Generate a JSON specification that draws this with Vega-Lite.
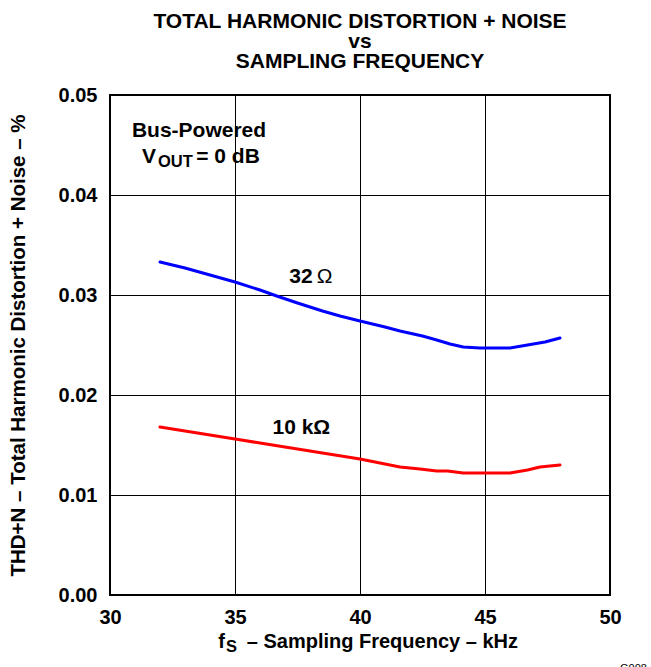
{
  "$schema": "https://vega.github.io/schema/vega-lite/v6.json",
  "width": 500,
  "height": 500,
  "autosize": {"type": "none"},
  "padding": {"left": 110, "top": 95, "right": 41, "bottom": 72},
  "background": "white",
  "config": {
    "font": "Liberation Sans",
    "view": {"stroke": "black", "strokeWidth": 2},
    "text": {"font": "Liberation Sans", "fontWeight": "bold", "fontSize": 21, "color": "black"}
  },
  "title": {
    "text": ["TOTAL HARMONIC DISTORTION + NOISE", "vs", "SAMPLING FREQUENCY"],
    "fontSize": 21,
    "fontWeight": "bold",
    "font": "Liberation Sans",
    "lineHeight": 20,
    "anchor": "middle",
    "frame": "group",
    "baseline": "bottom",
    "offset": -8,
    "color": "black"
  },
  "datasets": {
    "curves": [
      {"load": "32 Ω", "f": 32, "thd": 0.0333},
      {"load": "32 Ω", "f": 33, "thd": 0.0327},
      {"load": "32 Ω", "f": 34, "thd": 0.0320},
      {"load": "32 Ω", "f": 35, "thd": 0.0313},
      {"load": "32 Ω", "f": 36, "thd": 0.0305},
      {"load": "32 Ω", "f": 36.67, "thd": 0.0299},
      {"load": "32 Ω", "f": 37.5, "thd": 0.0292},
      {"load": "32 Ω", "f": 38.5, "thd": 0.0284},
      {"load": "32 Ω", "f": 39.2, "thd": 0.0279},
      {"load": "32 Ω", "f": 40, "thd": 0.0274},
      {"load": "32 Ω", "f": 41, "thd": 0.0268},
      {"load": "32 Ω", "f": 41.6, "thd": 0.0264},
      {"load": "32 Ω", "f": 42.5, "thd": 0.0259},
      {"load": "32 Ω", "f": 43.07, "thd": 0.0255},
      {"load": "32 Ω", "f": 43.6, "thd": 0.0251},
      {"load": "32 Ω", "f": 44.13, "thd": 0.0248},
      {"load": "32 Ω", "f": 44.8, "thd": 0.0247},
      {"load": "32 Ω", "f": 45.5, "thd": 0.0247},
      {"load": "32 Ω", "f": 46, "thd": 0.0247},
      {"load": "32 Ω", "f": 46.7, "thd": 0.0250},
      {"load": "32 Ω", "f": 47.4, "thd": 0.0253},
      {"load": "32 Ω", "f": 48, "thd": 0.0257},
      {"load": "10 kΩ", "f": 32, "thd": 0.0168},
      {"load": "10 kΩ", "f": 33, "thd": 0.0164},
      {"load": "10 kΩ", "f": 34, "thd": 0.0160},
      {"load": "10 kΩ", "f": 35, "thd": 0.0156},
      {"load": "10 kΩ", "f": 36, "thd": 0.0152},
      {"load": "10 kΩ", "f": 37, "thd": 0.0148},
      {"load": "10 kΩ", "f": 38, "thd": 0.0144},
      {"load": "10 kΩ", "f": 39, "thd": 0.0140},
      {"load": "10 kΩ", "f": 40, "thd": 0.0136},
      {"load": "10 kΩ", "f": 40.8, "thd": 0.0132},
      {"load": "10 kΩ", "f": 41.6, "thd": 0.0128},
      {"load": "10 kΩ", "f": 42.4, "thd": 0.0126},
      {"load": "10 kΩ", "f": 43.07, "thd": 0.0124},
      {"load": "10 kΩ", "f": 43.5, "thd": 0.0124},
      {"load": "10 kΩ", "f": 44.13, "thd": 0.0122},
      {"load": "10 kΩ", "f": 45, "thd": 0.0122},
      {"load": "10 kΩ", "f": 46, "thd": 0.0122},
      {"load": "10 kΩ", "f": 46.7, "thd": 0.0125},
      {"load": "10 kΩ", "f": 47.2, "thd": 0.0128},
      {"load": "10 kΩ", "f": 48, "thd": 0.0130}
    ]
  },
  "layer": [
    {
      "data": {"name": "curves"},
      "mark": {"type": "line", "strokeWidth": 3, "strokeCap": "round", "strokeJoin": "round"},
      "encoding": {
        "x": {
          "field": "f",
          "type": "quantitative",
          "scale": {"domain": [30, 50], "nice": false, "zero": false},
          "axis": {
            "values": [30, 35, 40, 45, 50],
            "format": "d",
            "title": null,
            "domain": false,
            "ticks": false,
            "grid": true,
            "gridColor": "black",
            "gridOpacity": 1,
            "gridWidth": 1,
            "labelFont": "Liberation Sans",
            "labelFontSize": 20,
            "labelFontWeight": "bold",
            "labelColor": "black",
            "labelPadding": 12,
            "labelFlush": false,
            "labelOverlap": false,
            "labelBound": false
          }
        },
        "y": {
          "field": "thd",
          "type": "quantitative",
          "scale": {"domain": [0, 0.05], "nice": false},
          "axis": {
            "values": [0, 0.01, 0.02, 0.03, 0.04, 0.05],
            "format": ".2f",
            "title": "THD+N – Total Harmonic Distortion + Noise – %",
            "titleFont": "Liberation Sans",
            "titleFontSize": 20.5,
            "titleFontWeight": "bold",
            "titleColor": "black",
            "titlePadding": 30,
            "domain": false,
            "ticks": false,
            "grid": true,
            "gridColor": "black",
            "gridOpacity": 1,
            "gridWidth": 1,
            "labelFont": "Liberation Sans",
            "labelFontSize": 20,
            "labelFontWeight": "bold",
            "labelColor": "black",
            "labelPadding": 13,
            "labelFlush": false,
            "labelOverlap": false,
            "labelBound": false
          }
        },
        "color": {
          "field": "load",
          "type": "nominal",
          "scale": {"domain": ["32 Ω", "10 kΩ"], "range": ["#0000ff", "#ff0000"]},
          "legend": null
        },
        "order": {"field": "f", "type": "quantitative"}
      }
    },
    {
      "data": {"values": [{"label": "Bus-Powered"}]},
      "mark": {"type": "text", "align": "center", "baseline": "alphabetic"},
      "encoding": {"text": {"field": "label"}, "x": {"datum": 33.56, "type": "quantitative"}, "y": {"datum": 0.0458, "type": "quantitative"}}
    },
    {
      "data": {"values": [{"label": "V"}]},
      "mark": {"type": "text", "align": "left", "baseline": "alphabetic"},
      "encoding": {"text": {"field": "label"}, "x": {"datum": 31.28, "type": "quantitative"}, "y": {"datum": 0.0432, "type": "quantitative"}}
    },
    {
      "data": {"values": [{"label": "OUT"}]},
      "mark": {"type": "text", "align": "left", "baseline": "alphabetic", "fontSize": 16.5},
      "encoding": {"text": {"field": "label"}, "x": {"datum": 31.92, "type": "quantitative"}, "y": {"datum": 0.0428, "type": "quantitative"}}
    },
    {
      "data": {"values": [{"label": "= 0 dB"}]},
      "mark": {"type": "text", "align": "left", "baseline": "alphabetic"},
      "encoding": {"text": {"field": "label"}, "x": {"datum": 33.45, "type": "quantitative"}, "y": {"datum": 0.0432, "type": "quantitative"}}
    },
    {
      "data": {"values": [{"label": "32"}]},
      "mark": {"type": "text", "align": "left", "baseline": "alphabetic"},
      "encoding": {"text": {"field": "label"}, "x": {"datum": 37.17, "type": "quantitative"}, "y": {"datum": 0.03117, "type": "quantitative"}}
    },
    {
      "data": {"values": [{"label": "Ω"}]},
      "mark": {"type": "text", "align": "left", "baseline": "alphabetic", "fontWeight": "normal"},
      "encoding": {"text": {"field": "label"}, "x": {"datum": 38.27, "type": "quantitative"}, "y": {"datum": 0.03117, "type": "quantitative"}}
    },
    {
      "data": {"values": [{"label": "10 kΩ"}]},
      "mark": {"type": "text", "align": "left", "baseline": "alphabetic"},
      "encoding": {"text": {"field": "label"}, "x": {"datum": 36.5, "type": "quantitative"}, "y": {"datum": 0.0161, "type": "quantitative"}}
    },
    {
      "data": {"values": [{"label": "f"}]},
      "mark": {"type": "text", "align": "left", "baseline": "alphabetic", "fontSize": 20},
      "encoding": {"text": {"field": "label"}, "x": {"datum": 34.33, "type": "quantitative"}, "y": {"datum": -0.00533, "type": "quantitative"}}
    },
    {
      "data": {"values": [{"label": "S"}]},
      "mark": {"type": "text", "align": "left", "baseline": "alphabetic", "fontSize": 16.5},
      "encoding": {"text": {"field": "label"}, "x": {"datum": 34.64, "type": "quantitative"}, "y": {"datum": -0.00573, "type": "quantitative"}}
    },
    {
      "data": {"values": [{"label": "– Sampling Frequency – kHz"}]},
      "mark": {"type": "text", "align": "left", "baseline": "alphabetic", "fontSize": 20},
      "encoding": {"text": {"field": "label"}, "x": {"datum": 35.47, "type": "quantitative"}, "y": {"datum": -0.00533, "type": "quantitative"}}
    },
    {
      "data": {"values": [{"label": "G008"}]},
      "mark": {"type": "text", "align": "left", "baseline": "alphabetic", "fontSize": 11, "fontWeight": "normal"},
      "encoding": {"text": {"field": "label"}, "x": {"datum": 50.4, "type": "quantitative"}, "y": {"datum": -0.0077, "type": "quantitative"}}
    }
  ]
}
